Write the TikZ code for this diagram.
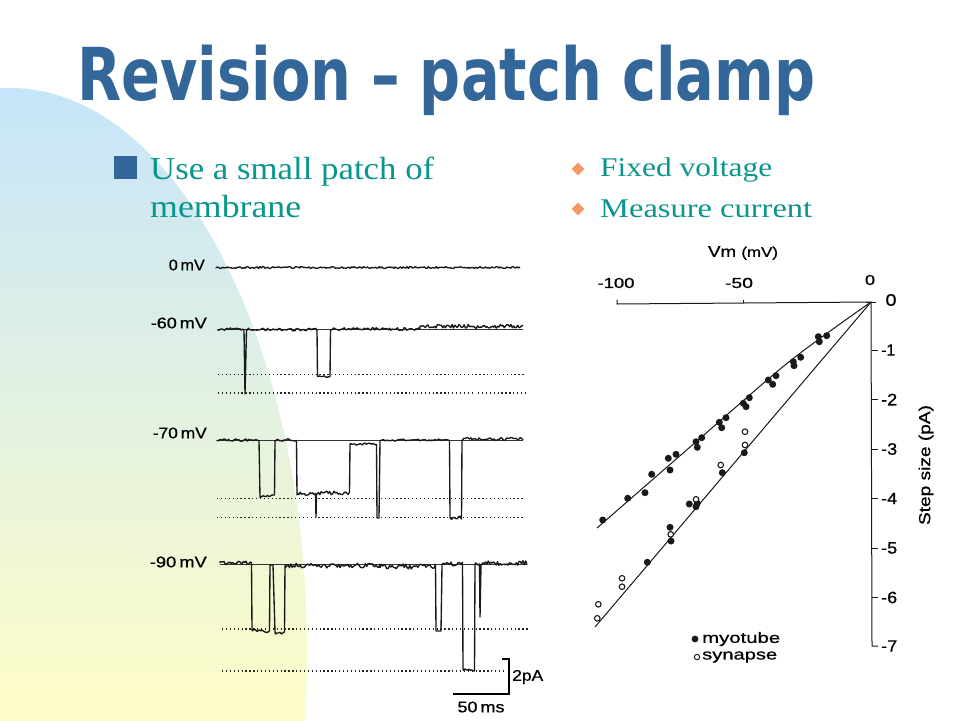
\documentclass[tikz,border=0pt]{standalone}
\usepackage{fontspec}
\usepackage{graphicx}
\usetikzlibrary{shapes.geometric}
\newfontfamily\titlefont{DejaVu Sans}
\newfontfamily\sfig{Liberation Sans}[FakeBold=0.7]
\newfontfamily\bulfont{Liberation Serif}
\definecolor{titleblue}{RGB}{51,102,153}
\definecolor{tealtext}{RGB}{10,150,140}
\definecolor{bulletorange}{RGB}{245,150,100}
\definecolor{bgblue}{RGB}{198,229,250}
\definecolor{bgyellow}{RGB}{255,253,200}
\newcommand\fitw[2]{\resizebox{#1}{\height}{#2}}
\tikzset{
  nz/.style n args={5}{insert path={-- plot[domain=#1:#2,samples=#5] (\x,{#3+#4*rand})}},
  trc/.style={draw=black!90, line width=1.35pt, line join=round},
  reflvl/.style={draw=black!80, line width=0.4pt},
  dotlvl/.style={draw=black!85, line width=1.3pt, dash pattern=on 1.3pt off 2.6pt},
  axisln/.style={draw=black!90, line width=1pt, line join=round},
  lbl/.style={inner sep=0, font=\sfig\fontsize{15.5}{17}\selectfont},
  plbl/.style={inner sep=0, font=\sfig\fontsize{14.5}{16}\selectfont},
  ylbl/.style={inner sep=0, anchor=west, font=\sfig\fontsize{16.5}{18}\selectfont},
  bul/.style={inner sep=0, anchor=base west, text=tealtext},
}
\begin{document}
\begin{tikzpicture}[x=1pt,y=-1pt]
\pgfmathsetseed{7}
\useasboundingbox (0,0) rectangle (960,720);
\fill[white] (0,0) rectangle (960,720);
% background
\begin{scope}
\clip (10,650) ellipse [x radius=297, y radius=562];
\shade[top color=bgblue, bottom color=bgyellow] (0,88) rectangle (320,720);
\end{scope}
% title
\node[inner sep=0, anchor=base west, text=titleblue] (title) at (77,100)
  {\fitw{738pt}{\titlefont\bfseries\fontsize{73}{80}\selectfont Revision – patch clamp}};
% bullets
\node[fill=titleblue, minimum size=23pt, inner sep=0] (sq) at (125.5,167.5) {};
\node[bul, font=\bulfont\fontsize{32}{38}\selectfont] (b1) at (150,179) {\fitw{284pt}{Use a small patch of}};
\node[bul, font=\bulfont\fontsize{32}{38}\selectfont] (b2) at (150,217) {\fitw{151pt}{membrane}};
\node[diamond, fill=bulletorange, minimum size=13pt, inner sep=0] (d1) at (578,169) {};
\node[diamond, fill=bulletorange, minimum size=13pt, inner sep=0] (d2) at (578,209) {};
\node[bul, font=\bulfont\fontsize{27}{32}\selectfont] (r1) at (600,176) {\fitw{172pt}{Fixed voltage}};
\node[bul, font=\bulfont\fontsize{27}{32}\selectfont] (r2) at (600,217) {\fitw{212pt}{Measure current}};
% trace labels
\node[lbl, anchor=east] (l0) at (205,265) {\fitw{36pt}{0\,mV}};
\node[lbl, anchor=east] (l60) at (207,323) {\fitw{56pt}{-60\,mV}};
\node[lbl, anchor=east] (l70) at (207,433) {\fitw{54pt}{-70\,mV}};
\node[lbl, anchor=east] (l90) at (207,562) {\fitw{57pt}{-90\,mV}};
% 0 mV trace
\draw[trc] (216,267.5) [nz={216}{520}{267.5}{0.9}{230}];
% -60 mV trace
\draw[reflvl] (218,329) -- (523,329);
\draw[trc] (218,329) [nz={218}{244}{329}{1.3}{20}] -- (245,394) -- (246.5,330)
  [nz={247}{317}{329.5}{1.4}{52}] -- (317.5,376) [nz={318}{330}{376.5}{0.8}{9}]
  -- (330.5,330) [nz={331}{420}{329}{1.3}{68}] [nz={420}{523}{326.5}{2}{78}];
\draw[dotlvl] (218,374.5) -- (525,374.5);
\draw[dotlvl] (218,393) -- (472,393);
\draw[dotlvl] (478,393) -- (525,393);
% -70 mV trace
\draw[reflvl] (217,440) -- (523,440);
\draw[trc] (217,440) [nz={217}{259}{440}{1.2}{30}] -- (260,497) [nz={260.5}{274.5}{496}{1.8}{11}]
  -- (275,441) [nz={275.5}{296.5}{440}{1.3}{16}] -- (297,495) [nz={297.5}{315.5}{494}{1.8}{14}]
  -- (316,517) -- (316.5,494) [nz={317}{349.5}{493}{1.8}{24}] -- (350,444)
  [nz={350.5}{376.5}{444}{1.2}{19}] -- (377,518) -- (379,518) -- (380,441)
  [nz={380.5}{449.5}{440}{1}{52}] -- (450,517) [nz={450.5}{461.5}{518}{1.6}{9}]
  -- (462,441) [nz={462.5}{523}{439}{1.5}{45}];
\draw[dotlvl] (217,498.5) -- (525,498.5);
\draw[dotlvl] (217,517.5) -- (525,517.5);
% -90 mV trace
\draw[reflvl] (220,564) -- (527,564);
\draw[trc] (220,563) [nz={220}{251.5}{563}{2}{24}] -- (252,630) [nz={252.5}{269.5}{631}{1.5}{13}]
  -- (270,565) -- (273,565) -- (275,632) [nz={275.5}{284.5}{633}{1.2}{7}] -- (285,565)
  [nz={285.5}{380}{565.5}{2.4}{72}] [nz={380}{435.5}{566.5}{2.4}{42}] -- (436,631) -- (441,631)
  -- (442,565) [nz={442.5}{462.5}{564}{2}{15}] -- (463,669) [nz={463.5}{474.5}{670}{1.2}{9}]
  -- (475,565) [nz={475.5}{479.5}{564}{1.5}{4}] -- (480,617) -- (481,565)
  [nz={481.5}{527}{563}{2.5}{35}];
\draw[dotlvl] (222,629) -- (528,629);
\draw[dotlvl] (222,671) -- (503,671);
% scale bar
\draw[line width=1.1pt] (502,659) -- (509,659) -- (509,694) -- (453,694);
\node[lbl, anchor=west] (pa) at (512,677) {\fitw{31pt}{2pA}};
\node[lbl] (ms) at (481,707) {\fitw{47pt}{50\,ms}};
% I-V plot axes
\draw[axisln] (617,299.5) -- (617,304) -- (871,302) -- (872,646) -- (878,646);
\draw[axisln] (743,299.5) -- (743,303);
\draw[axisln] (866,302) -- (876,302);
\foreach \yy in {350,399.5,449,498.5,548,597.5} \draw[axisln] (872,\yy) -- (878,\yy);
\node[plbl] (vm) at (743,253) {\fitw{70pt}{\fontsize{15.5}{18}\selectfont Vm \fontsize{14}{16}\selectfont(mV)}};
\node[plbl] (xm100) at (616,283) {\fitw{37pt}{-100}};
\node[plbl] (xm50) at (739,283) {\fitw{28pt}{-50}};
\node[plbl] (x0) at (870,280) {\fitw{10pt}{0}};
\node[ylbl, anchor=center] (y0) at (891,300) {\fitw{11pt}{0}};
\node[ylbl] (y1) at (881,350) {\fitw{14pt}{-1}};
\node[ylbl] (y2) at (881,399.5) {\fitw{16pt}{-2}};
\node[ylbl] (y3) at (881,449) {\fitw{16pt}{-3}};
\node[ylbl] (y4) at (881,498.5) {\fitw{16pt}{-4}};
\node[ylbl] (y5) at (881,548) {\fitw{16pt}{-5}};
\node[ylbl] (y6) at (881,597.5) {\fitw{16pt}{-6}};
\node[ylbl] (y7) at (881,646) {\fitw{16pt}{-7}};
\node[plbl, rotate=90] (ylab) at (926,465) {\fitw{120pt}{\fontsize{16}{18}\selectfont Step size (pA)}};
% fit lines
\draw[axisln] plot[smooth] coordinates {(871,302) (790,361) (697,441) (597,528)};
\draw[axisln] (871,302) -- (595,627);
% filled points
\foreach \p in {(818.3,336.7),(826.7,335.7),(819.3,341.7),(793.3,361.7),(800.7,357.3),(794,365.7),
  (768.3,380),(776,375.7),(772.7,384.3),(743.3,403.3),(749.3,397.7),(746,406.7),
  (719.3,422.3),(726,417.7),(721.7,427.7),(696,441.7),(701.7,437.7),(697.3,447.3),
  (668.3,458.3),(676,454.3),(670,470),(651.7,474.3),(645,492.7),(627.7,498.3),(602.7,520),
  (744.3,452.7),(722.3,472.7),(689.3,504),(696,506.7),(697.3,503.3),(670,527.3),(671,541),(647.3,562.3)}
  \fill[black!90] \p circle (3.5);
% open points
\foreach \p in {(745,431.7),(745,445),(720.7,465),(696,499.3),(670.7,534.3),(622,578.3),(622,586.7),
  (598.3,604.3),(597.3,618.3)}
  \draw[black!90, line width=1.1pt, fill=white] \p circle (2.8);
% legend
\fill[black!90] (695,639) circle (3.4);
\node[plbl, anchor=west, font=\sfig\fontsize{15}{17}\selectfont] (lgm) at (702,639) {\fitw{78pt}{myotube}};
\draw[black!90, line width=1pt] (697,657) circle (2.7);
\node[plbl, anchor=west, font=\sfig\fontsize{15}{17}\selectfont] (lgs) at (702,657) {\fitw{75pt}{synapse}};
\end{tikzpicture}
\end{document}
